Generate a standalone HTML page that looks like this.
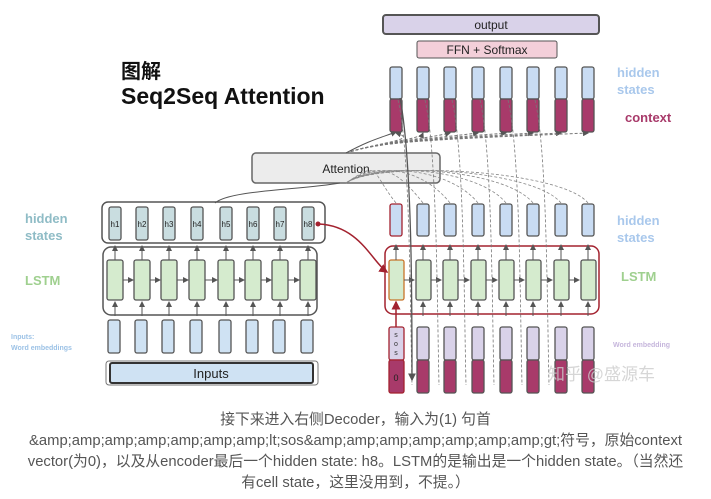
<!DOCTYPE html>
<html><head><meta charset="utf-8"><style>
body{margin:0;width:711px;height:499px;background:#fff;overflow:hidden;font-family:"Liberation Sans","Noto Sans CJK SC",sans-serif}
.cap{position:absolute;left:0;width:711px;text-align:center;font-size:14.8px;color:#555;line-height:21px;white-space:nowrap}
</style></head><body>
<svg id="s" width="711" height="400" style="position:absolute;left:0;top:0" font-family="Liberation Sans, Noto Sans CJK SC, sans-serif">
<defs><marker id="a" markerWidth="6" markerHeight="6" refX="5" refY="3" orient="auto"><path d="M0,0L6,3L0,6z" fill="#555"/></marker>
<marker id="r" markerWidth="6" markerHeight="6" refX="5" refY="3" orient="auto"><path d="M0,0L6,3L0,6z" fill="#a3222f"/></marker></defs>
<text x="121" y="78" font-size="20" font-weight="bold" fill="#111">图解</text>
<text x="121" y="104" font-size="23" font-weight="bold" fill="#111">Seq2Seq Attention</text>
<text x="25" y="223" font-size="13" font-weight="bold" fill="#8fbcc6">hidden</text>
<text x="25" y="240" font-size="13" font-weight="bold" fill="#8fbcc6">states</text>
<text x="25" y="285" font-size="13" font-weight="bold" fill="#9fd08f">LSTM</text>
<text x="11" y="339" font-size="7" font-weight="bold" fill="#9cc2e6">Inputs:</text>
<text x="11" y="350" font-size="7" font-weight="bold" fill="#9cc2e6">Word embeddings</text>
<text x="617" y="77" font-size="13" font-weight="bold" fill="#a9c8ec">hidden</text>
<text x="617" y="94" font-size="13" font-weight="bold" fill="#a9c8ec">states</text>
<text x="625" y="122" font-size="13" font-weight="bold" fill="#a83a6a">context</text>
<text x="617" y="225" font-size="13" font-weight="bold" fill="#a9c8ec">hidden</text>
<text x="617" y="242" font-size="13" font-weight="bold" fill="#a9c8ec">states</text>
<text x="621" y="281" font-size="13" font-weight="bold" fill="#9fd08f">LSTM</text>
<text x="613" y="347" font-size="7" font-weight="bold" fill="#c6b6dc">Word embedding</text>
<rect x="383" y="15" width="216" height="19" rx="3" fill="#d9d2e9" stroke="#555" stroke-width="2"/>
<text x="491" y="29" font-size="12" text-anchor="middle" fill="#222">output</text>
<rect x="417" y="41" width="140" height="17" rx="2" fill="#f3cfd9" stroke="#555"/>
<text x="487" y="54" font-size="12" text-anchor="middle" fill="#222">FFN + Softmax</text>
<rect x="252" y="153" width="188" height="30" rx="4" fill="#ececec" stroke="#666" stroke-width="1.5"/>
<text x="346" y="173" font-size="12" text-anchor="middle" fill="#222">Attention</text>
<rect x="102" y="202" width="223" height="41" rx="6" fill="none" stroke="#555" stroke-width="1.5"/>
<rect x="103" y="247" width="214" height="68" rx="8" fill="none" stroke="#555" stroke-width="1.5"/>
<rect x="106" y="361" width="212" height="24" rx="3" fill="none" stroke="#777"/>
<rect x="110" y="363" width="203" height="20" rx="2" fill="#cfe2f3" stroke="#333" stroke-width="2"/>
<text x="211" y="378" font-size="13" text-anchor="middle" fill="#222">Inputs</text>
<rect x="385" y="246" width="214" height="68" rx="8" fill="none" stroke="#a3222f" stroke-width="1.5"/>
<g id="g"></g>
<path d="M319,224 C360,226 372,262 387,272" fill="none" stroke="#a3222f" stroke-width="1.5" marker-end="url(#r)"/>
<circle cx="318" cy="224" r="2.5" fill="#a3222f"/>
<path d="M396,327 L396,302" stroke="#a3222f" stroke-width="1.5" marker-end="url(#r)"/>
<path d="M215,203 C230,190 300,190 340,183" fill="none" stroke="#555"/>
<path d="M346,153 C370,140 380,138 396,132" fill="none" stroke="#555" marker-end="url(#a)"/>
<path d="M400,98 C412,160 412,300 412,380" fill="none" stroke="#555" stroke-width="1.3" marker-end="url(#a)"/>
<text x="548" y="380" font-size="17" fill="#ccc" opacity="0.8">知乎 @盛源车</text>
</svg>
<div class="cap" style="top:410px">接下来进入右侧Decoder，输入为(1) 句首</div>
<div class="cap" style="top:431px">&amp;amp;amp;amp;amp;amp;amp;amp;lt;sos&amp;amp;amp;amp;amp;amp;amp;amp;gt;符号，原始context</div>
<div class="cap" style="top:452px">vector(为0)，以及从encoder最后一个hidden state: h8。LSTM的是输出是一个hidden state。（当然还</div>
<div class="cap" style="top:473px">有cell state，这里没用到，不提。）</div>
<script>
var g=document.getElementById('g'),h='';
function R(x,y,w,hh,f,s,sw){h+='<rect x="'+x+'" y="'+y+'" width="'+w+'" height="'+hh+'" rx="2" fill="'+f+'" stroke="'+(s||'#555')+'" stroke-width="'+(sw||1.3)+'"/>';}
function L(x1,y1,x2,y2,d){h+='<path d="M'+x1+','+y1+' L'+x2+','+y2+'" stroke="#555" stroke-width="1" '+(d?'stroke-dasharray="3,2" ':'')+'marker-end="url(#a)"/>';}
var ex=[109,136,163,191,220,247,274,302];
for(var i=0;i<8;i++){var x=ex[i];
R(x,207,12,33,'#c9dde0');h+='<text x="'+(x+6)+'" y="227" font-size="8" text-anchor="middle" fill="#222">h'+(i+1)+'</text>';
R(x-2,260,16,40,'#d5ebce');R(x-1,320,12,33,'#cfe2f3');
L(x+6,260,x+6,246);L(x+6,316,x+6,302);if(i<7)L(x+14,280,ex[i+1]-3,280);}
var dx=[390,417,444,472,500,527,555,582];
for(var i=0;i<8;i++){var x=dx[i];
R(x,67,12,32,'#c9dcf3');R(x,99,12,33,'#a83a6a');
R(x,204,12,32,'#c9dcf3',i?'#555':'#a3222f');
R(x-1,260,15,40,'#d5ebce',i?'#555':'#c8742a');
L(x+6,260,x+6,245);if(i)L(x+6,316,x+6,302);if(i<7)L(x+14,280,dx[i+1]-3,280);
if(i){R(x,327,12,33,'#d9d2e9');R(x,360,12,33,'#a83a6a');}
h+='<path d="M346,153 C380,142 420,140 '+(x+6)+',133" fill="none" stroke="#777" stroke-dasharray="3,2" stroke-width="1" marker-end="url(#a)"/>';
h+='<path d="M'+(x+6)+',203 C'+(x-20)+',170 380,160 346,183" fill="none" stroke="#888" stroke-dasharray="3,2" stroke-width="0.8"/>';
if(i<6)h+='<path d="M'+(x+8)+',100 C'+(x+20)+',150 '+(x+20)+',300 '+(x+22)+',385" fill="none" stroke="#777" stroke-dasharray="3,2" stroke-width="0.8"/>';}
R(389,327,15,33,'#d9d2e9','#a3222f');R(389,360,15,33,'#a83a6a','#a3222f');
h+='<text x="396" y="337" font-size="7" text-anchor="middle" fill="#333">s</text><text x="396" y="346" font-size="7" text-anchor="middle" fill="#333">o</text><text x="396" y="355" font-size="7" text-anchor="middle" fill="#333">s</text><text x="396" y="381" font-size="9" text-anchor="middle" fill="#222">0</text>';
g.innerHTML=h;
</script>
</body></html>
